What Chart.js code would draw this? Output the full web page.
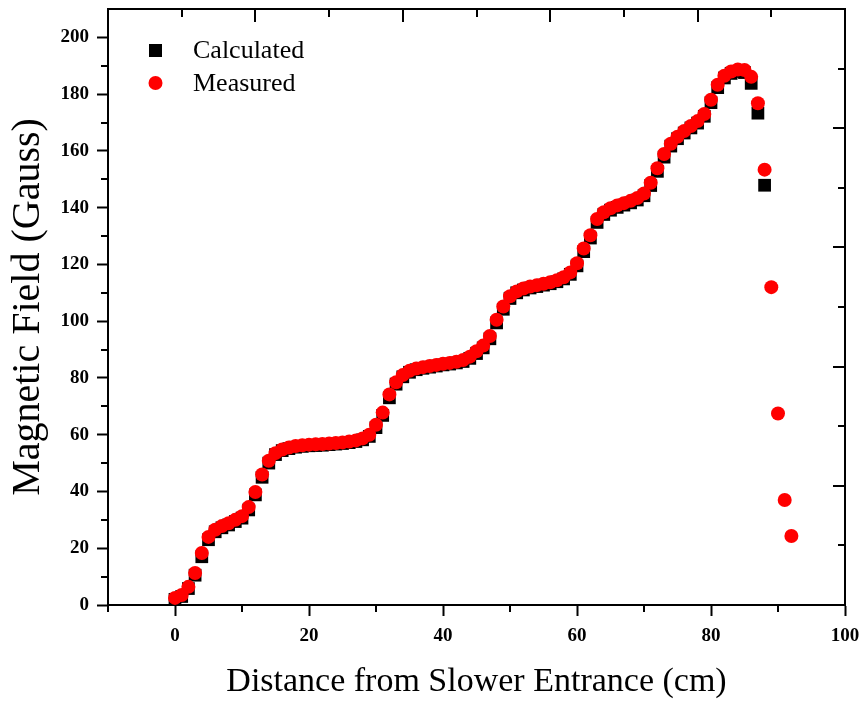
<!DOCTYPE html>
<html>
<head>
<meta charset="utf-8">
<title>Magnetic Field</title>
<script src="https://cdn.jsdelivr.net/npm/chart.js@4.4.0/dist/chart.umd.min.js"></script>
<style>
    html, body { margin: 0; padding: 0; background: #ffffff; }
    #contenedor { width: 864px; height: 702px; }
</style>
</head>
<body>
<div id="contenedor"><canvas id="grafico-campo"></canvas></div>
<script>
// Calculated field, one point per cm (0 - 88 cm)
const distanciaCalculada = [
    0, 1, 2, 3, 4, 5, 6, 7, 8, 9, 10, 11, 12, 13, 14, 15, 16, 17, 18, 19,
    20, 21, 22, 23, 24, 25, 26, 27, 28, 29, 30, 31, 32, 33, 34, 35, 36, 37, 38, 39,
    40, 41, 42, 43, 44, 45, 46, 47, 48, 49, 50, 51, 52, 53, 54, 55, 56, 57, 58, 59,
    60, 61, 62, 63, 64, 65, 66, 67, 68, 69, 70, 71, 72, 73, 74, 75, 76, 77, 78, 79,
    80, 81, 82, 83, 84, 85, 86, 87, 88
];
const campoCalculado = [
    2.0, 3.0, 5.8, 10.5, 17.0, 23.0, 25.8, 27.2, 28.2, 29.4, 30.6, 33.5, 38.8, 45.0, 50.0, 53.0, 54.4, 55.1, 55.6, 55.9,
    56.1, 56.2, 56.3, 56.5, 56.7, 56.9, 57.2, 57.6, 58.2, 59.4, 62.5, 66.8, 73.0, 77.8, 80.4, 82.0, 82.9, 83.4, 83.8, 84.2,
    84.6, 84.9, 85.3, 85.8, 86.9, 88.6, 90.6, 93.8, 99.4, 104.2, 108.0, 110.0, 111.0, 111.7, 112.2, 112.7, 113.2, 113.9, 114.9, 116.5,
    119.5, 124.5, 129.3, 134.8, 137.6, 139.1, 140.1, 140.9, 141.7, 142.7, 144.2, 147.8, 152.8, 157.8, 161.7, 164.3, 166.3, 168.1, 169.8, 172.2,
    177.0, 182.3, 185.7, 187.3, 188.0, 187.6, 183.8, 173.3, 147.9
];

// Measured field (0 - 92 cm)
const distanciaMedida = [
    0, 1, 2, 3, 4, 5, 6, 7, 8, 9, 10, 11, 12, 13, 14, 15, 16, 17, 18, 19,
    20, 21, 22, 23, 24, 25, 26, 27, 28, 29, 30, 31, 32, 33, 34, 35, 36, 37, 38, 39,
    40, 41, 42, 43, 44, 45, 46, 47, 48, 49, 50, 51, 52, 53, 54, 55, 56, 57, 58, 59,
    60, 61, 62, 63, 64, 65, 66, 67, 68, 69, 70, 71, 72, 73, 74, 75, 76, 77, 78, 79,
    80, 81, 82, 83, 84, 85, 86, 87, 88, 89, 90, 91, 92
];
const campoMedido = [
    2.5, 3.5, 6.4, 11.3, 18.3, 24.0, 26.5, 27.8, 28.8, 30.0, 31.3, 34.5, 39.8, 46.0, 50.8, 53.5, 54.8, 55.5, 56.0, 56.3,
    56.5, 56.6, 56.7, 56.9, 57.1, 57.3, 57.6, 58.0, 58.7, 60.0, 63.5, 67.8, 74.2, 78.5, 81.0, 82.5, 83.3, 83.8, 84.2, 84.6,
    85.0, 85.3, 85.7, 86.3, 87.5, 89.4, 91.4, 94.8, 100.5, 105.2, 108.8, 110.5, 111.5, 112.2, 112.7, 113.2, 113.7, 114.4, 115.5, 117.2,
    120.4, 125.6, 130.3, 136.0, 138.4, 139.8, 140.8, 141.6, 142.4, 143.4, 145.0, 148.8, 153.9, 158.9, 162.5, 165.0, 167.0, 168.8, 170.5, 173.0,
    178.0, 183.3, 186.5, 188.0, 188.7, 188.5, 186.1, 176.8, 153.4, 112.0, 67.5, 37.0, 24.3
];

// Tick labels and minor ticks
const etiquetasX = [0, 20, 40, 60, 80, 100];
const etiquetasY = [0, 20, 40, 60, 80, 100, 120, 140, 160, 180, 200];
const menoresX = [-10, 10, 30, 50, 70, 90];
const menoresY = [10, 30, 50, 70, 90, 110, 130, 150, 170, 190];
// top and right frame axes (own 0-5 scale, unlabeled)
const marcasMarco = [0.5, 1, 1.5, 2, 2.5, 3, 3.5, 4, 4.5];

const fuenteSerif = '"Liberation Serif", "Times New Roman", serif';

// Function to turn two arrays into scatter points
function armarPuntos(xs, ys) {
    return xs.map((x, i) => ({ x: x, y: ys[i] }));
}

// Function to pin an axis box to a fixed size with no extra label padding
function fijarTamano(prop, valor) {
    return function(scale) {
        scale[prop] = valor;
        scale.paddingTop = 0;
        scale.paddingBottom = 0;
        scale.paddingLeft = 0;
        scale.paddingRight = 0;
    };
}

// Plugin: minor ticks and inward ticks on top / right
const marcasEjes = {
    id: 'marcasEjes',
    afterDraw(chart) {
        const ctx = chart.ctx;
        const area = chart.chartArea;
        const { x, y, x2, y2 } = chart.scales;
        ctx.save();
        ctx.strokeStyle = '#000';
        ctx.lineWidth = 2;
        ctx.beginPath();
        menoresX.forEach(v => {
            const px = Math.round(x.getPixelForValue(v));
            ctx.moveTo(px, area.bottom);
            ctx.lineTo(px, area.bottom + 7);
        });
        menoresY.forEach(v => {
            const py = Math.round(y.getPixelForValue(v));
            ctx.moveTo(area.left, py);
            ctx.lineTo(area.left - 7, py);
        });
        marcasMarco.forEach(v => {
            const largo = Number.isInteger(v) ? 13 : 8;
            const px = Math.round(x2.getPixelForValue(v));
            ctx.moveTo(px, area.top);
            ctx.lineTo(px, area.top + largo);
            const py = Math.round(y2.getPixelForValue(v));
            ctx.moveTo(area.right, py);
            ctx.lineTo(area.right - (largo - 1), py);
        });
        ctx.stroke();
        ctx.restore();
    }
};

// Plugin: legend inside the plot, like the original
const leyendaInterna = {
    id: 'leyendaInterna',
    afterDraw(chart) {
        const ctx = chart.ctx;
        const sets = chart.data.datasets;
        ctx.save();
        ctx.fillStyle = sets[0].backgroundColor;
        ctx.fillRect(149, 44, 13, 13);
        ctx.fillStyle = sets[1].backgroundColor;
        ctx.beginPath();
        ctx.arc(155.5, 83, 7, 0, Math.PI * 2);
        ctx.fill();
        ctx.fillStyle = '#000';
        ctx.font = '26px ' + fuenteSerif;
        ctx.textBaseline = 'middle';
        ctx.fillText(sets[0].label, 193, 51);
        ctx.fillText(sets[1].label, 193, 84);
        ctx.restore();
    }
};

// Function to create the chart
function crearGraficoCampo() {
    const ctx = document.getElementById('grafico-campo');
    return new Chart(ctx, {
        type: 'scatter',
        data: {
            datasets: [
                {
                    label: 'Calculated',
                    data: armarPuntos(distanciaCalculada, campoCalculado),
                    backgroundColor: '#000000',
                    borderWidth: 0,
                    pointStyle: 'rect',
                    pointRadius: 9,
                    order: 1
                },
                {
                    label: 'Measured',
                    data: armarPuntos(distanciaMedida, campoMedido),
                    backgroundColor: '#ff0000',
                    borderWidth: 0,
                    pointStyle: 'circle',
                    pointRadius: 7,
                    order: 0
                }
            ]
        },
        options: {
            responsive: true,
            maintainAspectRatio: false,
            animation: false,
            events: [],
            layout: { padding: 0 },
            plugins: {
                legend: { display: false },
                tooltip: { enabled: false }
            },
            scales: {
                x: {
                    type: 'linear',
                    position: 'bottom',
                    min: -10,
                    max: 100,
                    afterBuildTicks: (scale) => { scale.ticks = etiquetasX.map(v => ({ value: v })); },
                    afterFit: fijarTamano('height', 97),
                    grid: { drawOnChartArea: false, tickLength: 11, tickWidth: 2, tickColor: '#000' },
                    border: { display: true, color: '#000', width: 2 },
                    ticks: {
                        color: '#000',
                        padding: 9,
                        maxRotation: 0,
                        font: { family: fuenteSerif, size: 19, weight: 'bold' }
                    },
                    title: {
                        display: true,
                        text: 'Distance from Slower Entrance (cm)',
                        color: '#000',
                        padding: { top: 0, bottom: 0 },
                        font: { family: fuenteSerif, size: 34 }
                    }
                },
                y: {
                    type: 'linear',
                    position: 'left',
                    min: 0,
                    max: 210,
                    afterBuildTicks: (scale) => { scale.ticks = etiquetasY.map(v => ({ value: v })); },
                    afterFit: fijarTamano('width', 108),
                    grid: { drawOnChartArea: false, tickLength: 11, tickWidth: 2, tickColor: '#000' },
                    border: { display: true, color: '#000', width: 2 },
                    ticks: {
                        color: '#000',
                        padding: 8,
                        font: { family: fuenteSerif, size: 19, weight: 'bold' }
                    },
                    title: {
                        display: true,
                        text: 'Magnetic Field (Gauss)',
                        color: '#000',
                        padding: { top: 4, bottom: 0 },
                        font: { family: fuenteSerif, size: 40 }
                    }
                },
                x2: {
                    type: 'linear',
                    position: 'top',
                    min: 0,
                    max: 5,
                    afterFit: fijarTamano('height', 6),
                    grid: { drawOnChartArea: false, drawTicks: false },
                    border: { display: true, color: '#000', width: 2 },
                    ticks: { display: false }
                },
                y2: {
                    type: 'linear',
                    position: 'right',
                    min: 0,
                    max: 5,
                    afterFit: fijarTamano('width', 19),
                    grid: { drawOnChartArea: false, drawTicks: false },
                    border: { display: true, color: '#000', width: 2 },
                    ticks: { display: false }
                }
            }
        },
        plugins: [marcasEjes, leyendaInterna]
    });
}

crearGraficoCampo();
</script>
</body>
</html>
